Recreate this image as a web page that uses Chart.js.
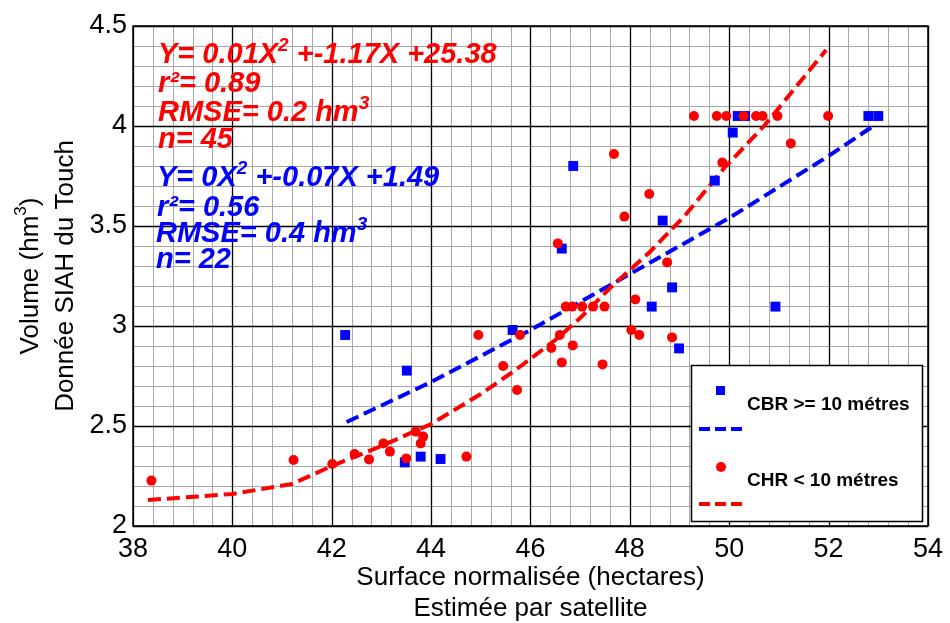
<!DOCTYPE html>
<html>
<head>
<meta charset="utf-8">
<script src="https://cdn.jsdelivr.net/npm/chart.js@4.4.1/dist/chart.umd.min.js"></script>
<style>
  html, body { margin: 0; padding: 0; background: #fff; }
  #chart { display: block; }
</style>
</head>
<body>
<canvas id="chart" width="950" height="623"></canvas>
<script>
// -------------------- Data --------------------
const chrX = [38.37, 41.23, 42.01, 42.46, 42.75, 43.04, 43.17, 43.50, 43.69, 43.84,
              43.79, 44.71, 44.95, 45.45, 45.73, 45.79, 46.55, 46.42, 46.59, 46.85,
              46.63, 46.71, 46.84, 47.04, 47.26, 47.49, 47.45, 47.68, 47.89, 48.03,
              48.19, 48.11, 48.39, 48.75, 48.85, 49.86, 51.24, 49.29, 49.75, 49.94,
              50.29, 50.54, 50.67, 50.97, 51.99];
const chrY = [2.227, 2.330, 2.310, 2.360, 2.333, 2.413, 2.372, 2.338, 2.472, 2.447,
              2.413, 2.347, 2.955, 2.800, 2.680, 2.955, 3.413, 2.890, 2.955, 2.903,
              2.818, 3.097, 3.097, 3.097, 3.097, 3.097, 2.808, 3.860, 3.547, 2.980,
              2.955, 3.133, 3.660, 3.318, 2.943, 3.817, 3.913, 4.050, 4.050, 4.050,
              4.050, 4.050, 4.050, 4.050, 4.050];

const cbrX = [42.27, 43.51, 43.47, 43.79, 44.19, 45.64, 46.63, 46.86, 48.44, 48.66,
              48.85, 48.99, 49.71, 50.07, 50.17, 50.32, 50.93, 52.80, 53.00];
const cbrY = [2.955, 2.777, 2.318, 2.347, 2.335, 2.980, 3.387, 3.800, 3.097, 3.527,
              3.193, 2.888, 3.727, 3.967, 4.050, 4.050, 3.097, 4.050, 4.050];

// fitted curves as drawn in the picture
const chrFitX = [38.3, 40, 41.2, 42, 43, 44, 45, 45.7, 46.5, 47, 47.6, 48.4, 49.1, 49.9, 50.7, 51.95];
const chrFitY = [2.13, 2.16, 2.21, 2.30, 2.40, 2.51, 2.66, 2.78, 2.93, 3.04, 3.19, 3.37, 3.55, 3.79, 4.00, 4.38];
const cbrFitX = [42.3, 44, 46, 48, 50, 52, 52.9];
const cbrFitY = [2.52, 2.72, 2.98, 3.26, 3.54, 3.85, 4.00];

const xTicks = [38, 40, 42, 44, 46, 48, 50, 52, 54];
const yTicks = [2, 2.5, 3, 3.5, 4, 4.5];

const RED = '#ff0000';
const BLUE = '#0000ff';
const FONT = '"Liberation Sans", Arial, Helvetica, sans-serif';

const toPts = (xs, ys) => xs.map((x, i) => ({ x: x, y: ys[i] }));

// -------------------- Helpers --------------------
// draw a run of text pieces, some of them raised as superscripts
function drawParts(ctx, x, y, parts, font, supFont, raise) {
    let cx = x;
    parts.forEach(([txt, sup]) => {
        ctx.font = sup ? supFont : font;
        ctx.fillText(txt, cx, sup ? y - raise : y);
        cx += ctx.measureText(txt).width;
    });
    return cx - x;
}

function partsWidth(ctx, parts, font, supFont) {
    let w = 0;
    parts.forEach(([txt, sup]) => {
        ctx.font = sup ? supFont : font;
        w += ctx.measureText(txt).width;
    });
    return w;
}

// -------------------- Grid (major black, minor grey) --------------------
const gridPlugin = {
    id: 'gridPlugin',
    beforeDatasetsDraw(chart) {
        const { ctx, chartArea: a, scales: { x, y } } = chart;
        ctx.save();
        for (let pass = 0; pass < 2; pass++) {
            const major = pass === 1;
            ctx.strokeStyle = major ? '#000' : '#a8a8a8';
            ctx.lineWidth = major ? 1.3 : 1;
            ctx.beginPath();
            for (let i = 0; i <= 40; i++) {
                if ((i % 5 === 0) !== major) continue;
                const px = Math.round(x.getPixelForValue(38 + i * 0.4)) + 0.5;
                ctx.moveTo(px, a.top);
                ctx.lineTo(px, a.bottom);
            }
            for (let j = 0; j <= 25; j++) {
                if ((j % 5 === 0) !== major) continue;
                const py = Math.round(y.getPixelForValue(2 + j * 0.1)) + 0.5;
                ctx.moveTo(a.left, py);
                ctx.lineTo(a.right, py);
            }
            ctx.stroke();
        }
        ctx.strokeStyle = '#000';
        ctx.lineWidth = 1.5;
        ctx.strokeRect(a.left, a.top, a.right - a.left, a.bottom - a.top);
        ctx.restore();
    }
};

// -------------------- Texts, legend, axis titles --------------------
const textPlugin = {
    id: 'textPlugin',
    afterDraw(chart) {
        const ctx = chart.ctx;
        const a = chart.chartArea;
        ctx.save();

        // equations block
        const f = 'italic bold 29px ' + FONT;
        const fs = 'italic bold 19px ' + FONT;
        ctx.textBaseline = 'alphabetic';
        ctx.fillStyle = RED;
        drawParts(ctx, 158, 63, [['Y= 0.01X', false], ['2', true], [' +-1.17X +25.38', false]], f, fs, 12);
        drawParts(ctx, 158, 92, [['r²= 0.89', false]], f, fs, 12);
        drawParts(ctx, 158, 121, [['RMSE= 0.2 hm', false], ['3', true]], f, fs, 12);
        drawParts(ctx, 158, 148, [['n= 45', false]], f, fs, 12);
        ctx.fillStyle = BLUE;
        drawParts(ctx, 157, 186, [['Y= 0X', false], ['2', true], [' +-0.07X +1.49', false]], f, fs, 12);
        drawParts(ctx, 157, 216, [['r²= 0.56', false]], f, fs, 12);
        drawParts(ctx, 156, 242, [['RMSE= 0.4 hm', false], ['3', true]], f, fs, 12);
        drawParts(ctx, 156, 268, [['n= 22', false]], f, fs, 12);

        // legend
        ctx.fillStyle = '#fff';
        ctx.fillRect(691, 365, 231, 156);
        ctx.strokeStyle = '#000';
        ctx.lineWidth = 1.5;
        ctx.strokeRect(691.5, 365.5, 231, 156);

        ctx.fillStyle = BLUE;
        ctx.fillRect(716, 386, 9, 9);
        ctx.fillStyle = RED;
        ctx.beginPath();
        ctx.arc(721, 467, 5, 0, Math.PI * 2);
        ctx.fill();

        ctx.lineWidth = 4;
        ctx.setLineDash([11, 5]);
        ctx.strokeStyle = BLUE;
        ctx.beginPath(); ctx.moveTo(699, 429); ctx.lineTo(743, 429); ctx.stroke();
        ctx.strokeStyle = RED;
        ctx.beginPath(); ctx.moveTo(699, 504); ctx.lineTo(743, 504); ctx.stroke();
        ctx.setLineDash([]);

        ctx.fillStyle = '#000';
        ctx.font = 'bold 19px ' + FONT;
        ctx.fillText('CBR >= 10 métres', 747, 410);
        ctx.fillText('CHR < 10 métres', 747, 486);

        // x axis title
        const tf = '26px ' + FONT;
        const tfs = '17px ' + FONT;
        ctx.font = tf;
        ctx.textAlign = 'center';
        ctx.textBaseline = 'middle';
        const cx = (a.left + a.right) / 2;
        ctx.fillText('Surface normalisée (hectares)', cx, 578);
        ctx.fillText('Estimée par satellite', cx, 609);

        // y axis title (rotated)
        const cy = (a.top + a.bottom) / 2;
        ctx.translate(0, cy);
        ctx.rotate(-Math.PI / 2);
        ctx.textAlign = 'left';
        const volParts = [['Volume (hm', false], ['3', true], [')', false]];
        const vw = partsWidth(ctx, volParts, tf, tfs);
        drawParts(ctx, -vw / 2, 31, volParts, tf, tfs, 10);
        ctx.font = tf;
        ctx.textAlign = 'center';
        ctx.fillText('Donnée SIAH du Touch', 0, 66);

        ctx.restore();
    }
};

// -------------------- Chart --------------------
const tickFont = { family: FONT, size: 27 };
const plainNum = (v) => String(Math.round(v * 10) / 10);

new Chart(document.getElementById('chart'), {
    type: 'scatter',
    data: {
        datasets: [
            {
                label: 'CHR < 10 métres',
                data: toPts(chrX, chrY),
                backgroundColor: RED,
                borderColor: RED,
                pointStyle: 'circle',
                pointRadius: 5,
                borderWidth: 0
            },
            {
                label: 'CBR >= 10 métres',
                data: toPts(cbrX, cbrY),
                backgroundColor: BLUE,
                borderColor: BLUE,
                pointStyle: 'rect',
                pointRadius: 7,
                borderWidth: 0
            },
            {
                label: 'CHR fit',
                data: toPts(chrFitX, chrFitY),
                showLine: true,
                borderColor: RED,
                borderWidth: 4,
                borderDash: [13, 6],
                pointRadius: 0,
                fill: false
            },
            {
                label: 'CBR fit',
                data: toPts(cbrFitX, cbrFitY),
                showLine: true,
                borderColor: BLUE,
                borderWidth: 4,
                borderDash: [13, 6],
                pointRadius: 0,
                fill: false
            }
        ]
    },
    options: {
        responsive: false,
        animation: false,
        devicePixelRatio: 1,
        layout: { padding: { top: 26, right: 17, left: 0, bottom: 0 } },
        plugins: {
            legend: { display: false },
            tooltip: { enabled: false }
        },
        scales: {
            x: {
                type: 'linear',
                min: 38,
                max: 54,
                afterFit: (s) => { s.height = 97; },
                afterBuildTicks: (s) => { s.ticks = xTicks.map(v => ({ value: v })); },
                grid: { display: false, drawTicks: false },
                border: { display: false },
                ticks: { font: tickFont, color: '#000', padding: 7, autoSkip: false, maxRotation: 0, callback: plainNum }
            },
            y: {
                type: 'linear',
                min: 2,
                max: 4.5,
                afterFit: (s) => { s.width = 133; },
                afterBuildTicks: (s) => { s.ticks = yTicks.map(v => ({ value: v })); },
                grid: { display: false, drawTicks: false },
                border: { display: false },
                ticks: { font: tickFont, color: '#000', padding: 6, autoSkip: false, callback: plainNum }
            }
        }
    },
    plugins: [gridPlugin, textPlugin]
});
</script>
</body>
</html>
